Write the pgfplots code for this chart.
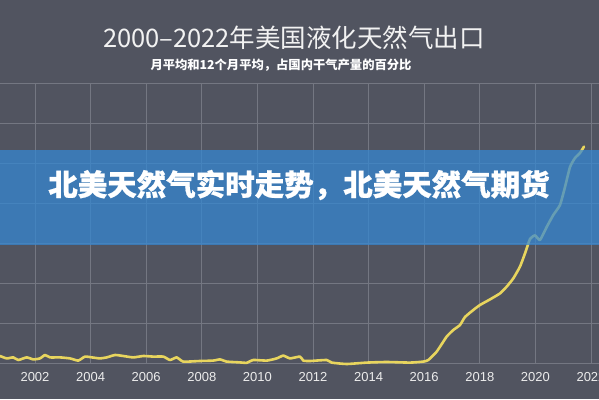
\documentclass[border=0pt]{standalone}
\usepackage{pgfplots}
\pgfplotsset{compat=1.18}
\usepackage{fontspec}
\setmainfont{Liberation Sans}
\newfontfamily\cjk{Noto Sans CJK SC}
\newfontfamily\cjkh[BoldFeatures={FakeBold=0.6}]{Noto Sans CJK SC}
\definecolor{bg}{HTML}{515460}
\definecolor{gridc}{HTML}{747782}
\definecolor{lineY}{HTML}{E8D55E}
\definecolor{band}{HTML}{3488D5}
\definecolor{ticktxt}{HTML}{ECECEC}
\begin{document}
\begin{tikzpicture}
\path[use as bounding box] (0pt,0pt) rectangle (599pt,399pt);
\fill[bg] (0pt,0pt) rectangle (599pt,399pt);
\begin{scope}
\clip (0pt,0pt) rectangle (599pt,399pt);
\begin{axis}[
  at={(0pt,36pt)}, anchor=south west,
  scale only axis, width=599pt, height=280pt,
  xmin=2000.741, xmax=2022.288, ymin=0, ymax=14,
  axis line style={draw=none},
  xtick={2002,2004,...,2022},
  ytick={0,2,...,14}, yticklabels={},
  major tick length=0pt,
  xmajorgrids, ymajorgrids,
  grid style={gridc, line width=0.6pt},
  xticklabel style={font=\fontsize{13}{13}\selectfont, text=ticktxt, anchor=base, yshift=-18pt},
  /pgf/number format/1000 sep={},
  /pgf/number format/assume math mode=true,
  clip=false,
]
\addplot[lineY, line width=2.6pt, line join=round, line cap=round, smooth, tension=0.3] coordinates {
(2000.741,0.35) (2000.982,0.23) (2001.219,0.28) (2001.399,0.15) (2001.701,0.28)
(2001.939,0.18) (2002.180,0.23) (2002.360,0.40) (2002.540,0.28) (2002.899,0.28)
(2003.259,0.23) (2003.558,0.12) (2003.799,0.32) (2004.097,0.27) (2004.338,0.23)
(2004.579,0.28) (2004.878,0.40) (2005.176,0.35) (2005.536,0.28) (2005.896,0.35)
(2006.255,0.32) (2006.615,0.32) (2006.856,0.15) (2007.097,0.28) (2007.335,0.07)
(2007.935,0.10) (2008.414,0.12) (2008.655,0.18) (2008.896,0.07) (2009.374,0.03)
(2009.615,0.01) (2009.853,0.15) (2010.335,0.12) (2010.694,0.23) (2010.932,0.37)
(2011.173,0.23) (2011.532,0.32) (2011.651,0.12) (2011.892,0.10) (2012.493,0.15)
(2012.673,0.02) (2013.212,-0.05) (2013.932,0.02) (2014.651,0.05) (2015.489,0.02)
(2015.968,0.07) (2016.148,0.15) (2016.450,0.57) (2016.809,1.32) (2017.047,1.65)
(2017.288,1.90) (2017.468,2.30) (2017.766,2.65) (2018.007,2.90) (2018.367,3.18)
(2018.727,3.48) (2018.968,3.82) (2019.205,4.23) (2019.446,4.82) (2019.626,5.48)
(2019.806,6.20) (2019.986,6.38) (2020.165,6.15) (2020.406,6.80) (2020.644,7.40)
(2020.885,7.90) (2021.065,8.80) (2021.245,9.80) (2021.424,10.25) (2021.604,10.50)
(2021.748,10.82)
};
\end{axis}
\end{scope}
\fill[band, opacity=0.72] (0pt,154pt) rectangle (599pt,249pt);
\node[text=white, font=\cjkh\bfseries\fontsize{29.5}{30}\selectfont] at (299pt,214pt) {北美天然气实时走势，北美天然气期货};
\node[text=white!95!black, font=\cjk\fontsize{25.5}{26}\selectfont] at (294pt,361pt) {2000–2022年美国液化天然气出口};
\node[text=white, font=\cjk\bfseries\fontsize{12.3}{13}\selectfont] at (281pt,334pt) {月平均和12个月平均，占国内干气产量的百分比};
\end{tikzpicture}
\end{document}
